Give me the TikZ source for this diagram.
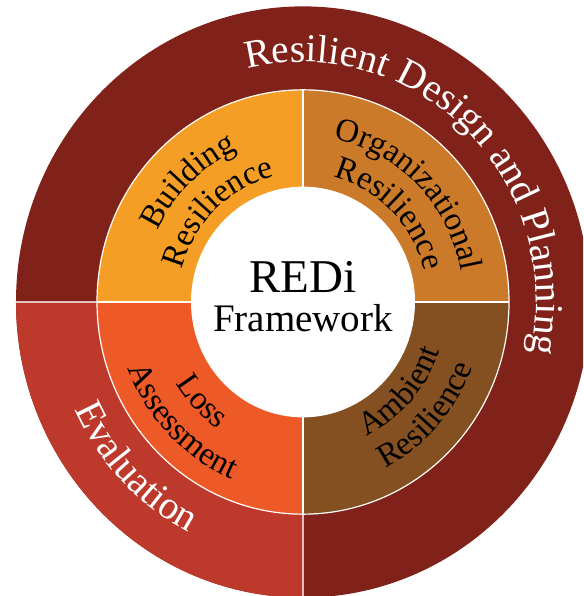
\documentclass[tikz,border=0pt]{standalone}
\usepackage{fontspec}
\setmainfont{Liberation Serif}
\usetikzlibrary{decorations.text}
\definecolor{cOuter}{HTML}{81221A}
\definecolor{cEval}{HTML}{BD392B}
\definecolor{cBuild}{HTML}{F59E25}
\definecolor{cOrg}{HTML}{CB7A2A}
\definecolor{cLoss}{HTML}{EE5A27}
\definecolor{cAmb}{HTML}{845021}
\tikzset{
  sep/.style={white, line width=1.2pt},
  outersep/.style={white, opacity=0.7, line width=1.4pt},
  bigarc/.style={decorate, decoration={text along path, text align=center, text color=white,
     text={|\fontsize{39.5}{39.5}\selectfont|#1}}},
  smallarc/.style={decorate, decoration={text along path, text align=center, text color=black,
     text={|\fontsize{33}{33}\selectfont|#1}}},
}
\begin{document}
\begin{tikzpicture}[x=1pt,y=1pt]
\useasboundingbox (-303,-294) rectangle (280,302);
\clip (-303,-294) rectangle (280,302);
\begin{scope}[yscale=1.03]
  % outer ring
  \fill[cOuter] (0,0) circle[radius=287];
  \fill[cEval] (0,0) -- (180:287) arc[start angle=180,end angle=270,radius=287] -- cycle;
  % middle ring
  \fill[cBuild] (0,0) -- (90:206) arc[start angle=90,end angle=180,radius=206] -- cycle;
  \fill[cOrg] (0,0) -- (0:206) arc[start angle=0,end angle=90,radius=206] -- cycle;
  \fill[cLoss] (0,0) -- (180:206) arc[start angle=180,end angle=270,radius=206] -- cycle;
  \fill[cAmb] (0,0) -- (270:206) arc[start angle=270,end angle=360,radius=206] -- cycle;
  % inner disk
  \fill[white] (0,0) circle[radius=112];
  % separators
  \draw[sep] (0,0) circle[radius=206];
  \foreach \a in {0,90,180,270} \draw[sep] (\a:112) -- (\a:206);
  \draw[outersep] (180:206) -- (180:287) (270:206) -- (270:287);
  % outer texts
  \path[bigarc={Resilient Design and Planning}] (126:233) arc[start angle=126,end angle=-34,radius=233];
  \path[bigarc={Evaluation}] (184:251) arc[start angle=184,end angle=264,radius=251];
  % middle texts
  \path[smallarc={Building}] (178:161) arc[start angle=178,end angle=90,radius=161];
  \path[smallarc={Resilience}] (178:125) arc[start angle=178,end angle=90,radius=125];
  \path[smallarc={Organizational}] (89:161) arc[start angle=89,end angle=1,radius=161];
  \path[smallarc={Resilience}] (89:125) arc[start angle=89,end angle=1,radius=125];
  \path[smallarc={Loss}] (181:150) arc[start angle=181,end angle=267,radius=150];
  \path[smallarc={Assessment}] (181:186) arc[start angle=181,end angle=267,radius=186];
  \path[smallarc={Ambient}] (274:145) arc[start angle=274,end angle=362,radius=145];
  \path[smallarc={Resilience}] (274:181) arc[start angle=274,end angle=362,radius=181];
\end{scope}
\node (redi) [anchor=base, inner sep=0pt, font=\fontsize{47}{47}\selectfont] at (0,9) {REDi};
\node (fw) [anchor=base, inner sep=0pt, font=\fontsize{39}{39}\selectfont] at (0,-30) {Framework};
\end{tikzpicture}
\end{document}
